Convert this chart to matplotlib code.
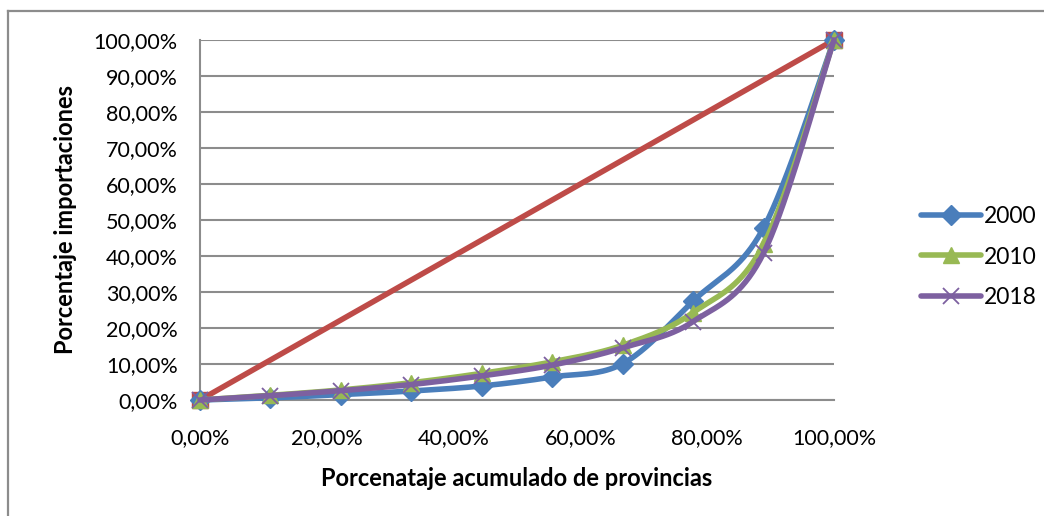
import numpy as np
import matplotlib
matplotlib.use("Agg")
import matplotlib.pyplot as plt
from matplotlib.lines import Line2D
from matplotlib.ticker import FixedLocator

plt.rcParams["font.family"] = ["Lato", "DejaVu Sans"]

# cumulative share of provinces (x) and imports (y), in %
provinces = [0.0, 11.11, 22.22, 33.33, 44.44, 55.56, 66.67, 77.78, 88.89, 100.0]
imports_2000 = [0.0, 0.6, 1.5, 2.5, 3.9, 6.4, 10.1, 27.5, 47.8, 100.0]
imports_2010 = [0.0, 1.3, 2.8, 4.8, 7.4, 10.6, 15.2, 24.3, 43.2, 100.0]
imports_2018 = [0.0, 1.2, 2.6, 4.3, 6.7, 9.7, 14.5, 21.8, 40.8, 100.0]
equality_x = [0.0, 100.0]
equality_y = [0.0, 100.0]

BLUE = "#4A7EBB"
RED = "#BE4B48"
GREEN = "#98B954"
PURPLE = "#7D60A0"
GRID = "#8C8C8C"


def smooth(x, y, n=40):
    """Catmull-Rom style smoothing, like Excel's smoothed line."""
    p = np.column_stack([x, y]) / 100.0
    ext = np.vstack([p[0], p, p[-1]])
    out = []
    t = np.linspace(0, 1, n)[:, None]
    for i in range(len(p) - 1):
        p0, p1, p2, p3 = ext[i], ext[i + 1], ext[i + 2], ext[i + 3]
        c1 = p1 + (p2 - p0) / 6
        c2 = p2 - (p3 - p1) / 6
        seg = ((1 - t) ** 3) * p1 + 3 * ((1 - t) ** 2) * t * c1 \
            + 3 * (1 - t) * t ** 2 * c2 + t ** 3 * p2
        out.append(seg)
    pts = np.vstack(out)
    return pts[:, 0], pts[:, 1]


fig = plt.figure(figsize=(10.44, 5.16), dpi=100)
ax = fig.add_axes([200 / 1044, 1 - 400 / 516, 634 / 1044, 360 / 516])

# outer chart border (only left and top visible)
fig.add_artist(Line2D([8 / 1044, 8 / 1044], [0, 1 - 11 / 516],
                      transform=fig.transFigure, color="#8C8C8C", lw=1.6))
fig.add_artist(Line2D([8 / 1044, 1], [1 - 11 / 516, 1 - 11 / 516],
                      transform=fig.transFigure, color="#8C8C8C", lw=1.6))

ex = np.array(equality_x) / 100
ey = np.array(equality_y) / 100
ax.plot(ex, ey, color=RED, lw=4, marker="s", markersize=12,
        markerfacecolor=RED, markeredgecolor=RED, zorder=3,
        clip_on=False)

series = [
    ("2000", imports_2000, BLUE, "D", 10, 4),
    ("2010", imports_2010, GREEN, "^", 11, 5),
    ("2018", imports_2018, PURPLE, "x", 11, 6),
]
handles = []
for label, vals, color, marker, ms, z in series:
    sx, sy = smooth(provinces, vals)
    ax.plot(sx, sy, color=color, lw=4, solid_capstyle="round", zorder=z,
            clip_on=False)
    mew = 1.3 if marker == "x" else 1
    ax.plot(np.array(provinces) / 100, np.array(vals) / 100, ls="none",
            marker=marker, markersize=ms, color=color, markeredgewidth=mew,
            zorder=z, clip_on=False)
    handles.append(Line2D([], [], color=color, lw=4, marker=marker,
                          markersize=ms, markeredgewidth=mew,
                          solid_capstyle="round", label=label))

ax.set_xlim(0, 1)
ax.set_ylim(0, 1)
ticks_x = [0, 0.2, 0.4, 0.6, 0.8, 1.0]
ticks_y = [i / 10 for i in range(11)]
ax.xaxis.set_major_locator(FixedLocator(ticks_x))
ax.yaxis.set_major_locator(FixedLocator(ticks_y))
ax.set_xticklabels([f"{v * 100:.2f}%".replace(".", ",") for v in ticks_x])
ax.set_yticklabels([f"{v * 100:.2f}%".replace(".", ",") for v in ticks_y])
ax.tick_params(labelsize=15.5, colors="#000000", length=0)
ax.tick_params(axis="y", pad=16)
ax.tick_params(axis="x", pad=20)
ax.grid(axis="y", color=GRID, lw=1.5)
ax.set_axisbelow(True)
for side in ["top", "right"]:
    ax.spines[side].set_visible(False)
for side in ["left", "bottom"]:
    ax.spines[side].set_color(GRID)
    ax.spines[side].set_linewidth(1.5)

ax.set_ylabel("Porcentaje importaciones", fontsize=17, fontweight="bold",
              labelpad=12)
ax.set_xlabel("Porcenataje acumulado de provincias", fontsize=17,
              fontweight="bold", labelpad=14)

fig.legend(handles=handles, loc="center left",
           bbox_to_anchor=(912 / 1044, 1 - 257 / 516), frameon=False,
           fontsize=16.5, handlelength=2.6, handletextpad=0.15,
           labelspacing=0.85, borderaxespad=0)

fig.savefig("out.png", dpi=100)
